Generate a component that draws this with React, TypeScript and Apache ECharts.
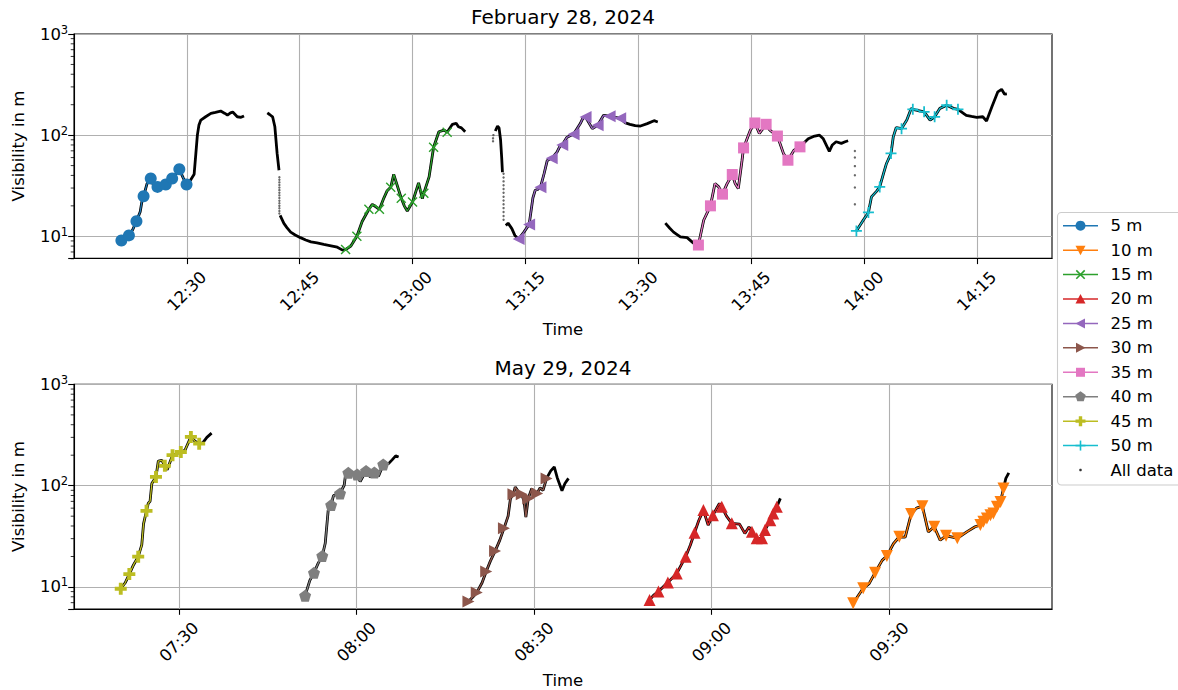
import { useEffect, useRef } from 'react';
import * as echarts from 'echarts';

type P = [number, number];

// ===== axis ranges and ticks (minutes since midnight / visibility in m) =====
const FEB_X_RANGE: P = [735, 865];
const MAY_X_RANGE: P = [432.25, 597.5];
const Y_RANGE: P = [6.06, 1000];
const FEB_X_TICKS = [750, 765, 780, 795, 810, 825, 840, 855];
const MAY_X_TICKS = [450, 480, 510, 540, 570];
const Y_MINOR_TICKS = [6, 7, 8, 9, 20, 30, 40, 50, 60, 70, 80, 90, 200, 300, 400, 500, 600, 700, 800, 900];
const LEGEND_LABELS = ['5 m', '10 m', '15 m', '20 m', '25 m', '30 m', '35 m', '40 m', '45 m', '50 m', 'All data'];
const TITLES = ['February 28, 2024', 'May 29, 2024'];

// ===== February 28, 2024 =====
const feb5mMarks: P[] = [[741.3, 9.1], [742.3, 10.2], [743.3, 14.1], [744.25, 24.9], [745.2, 37.3], [746.1, 30.8], [747.2, 32.5], [748.05, 37.3], [749.0, 46.0], [749.96, 32.5]];
const feb5mBetween: P[] = [[742.8, 11.6], [743.8, 17.5], [744.0, 21.5], [744.7, 33], [745.6, 31.5], [746.6, 31.2], [747.6, 34.5], [748.5, 41], [749.5, 38]];
const feb5mPost: P[] = [[750.5, 36], [750.97, 41.1], [751.2, 65.9], [751.4, 100], [751.6, 125], [751.86, 141], [752.5, 152], [753.2, 164], [753.8, 168], [754.5, 173], [755.0, 165], [755.4, 158], [755.8, 166], [756.1, 169], [756.7, 152], [757.2, 150], [757.6, 155]];

const febBlackB: P[] = [[760.7, 166], [761.0, 160], [761.4, 152], [761.7, 121], [762.0, 65.9], [762.25, 45]];
const feb15mPre: P[] = [[762.4, 16.1], [762.9, 13.4], [763.3, 12.2], [763.8, 11.0], [764.4, 10.3], [765.1, 9.7], [765.8, 9.2], [766.5, 8.8], [767.3, 8.6], [768.2, 8.3], [769.0, 8.1], [770.0, 7.8], [770.7, 7.3]];
const feb15mMarks: P[] = [[771.1, 7.4], [772.6, 10], [774.2, 18.5], [775.6, 18.5], [777.1, 30.5], [778.5, 23.8], [780.0, 21.8], [781.5, 26.7], [782.8, 76], [784.6, 107]];
const feb15mBetween: P[] = [[771.8, 8.0], [773.3, 14], [774.65, 20.7], [776.2, 24], [776.6, 28], [777.5, 41], [778.9, 20], [779.3, 17.8], [780.8, 33.7], [781.3, 23.6], [782.2, 38.7], [783.5, 108], [784.2, 112]];
const feb15mPost: P[] = [[785.3, 128], [785.8, 131], [786.1, 121], [786.5, 118], [787.0, 108]];

const febBlackC: P[] = [[791.0, 110], [791.3, 123], [791.5, 118], [791.7, 90], [791.85, 60], [791.95, 43]];
const feb25mPre: P[] = [[792.4, 12.8], [792.7, 13.5], [793.2, 11.9], [793.6, 10.2]];
const feb25mMarks: P[] = [[794.1, 9.4], [795.5, 13.1], [797.0, 30.5], [798.5, 59], [799.9, 80], [801.4, 102], [803.0, 151], [804.6, 125], [806.2, 154], [807.6, 147]];
const feb25mBetween: P[] = [[794.8, 11], [796.0, 24], [796.3, 28.5], [796.6, 29], [797.5, 42], [797.9, 56], [798.2, 58], [799.2, 68], [799.6, 78], [800.5, 95], [801.0, 99], [802.3, 130], [802.7, 150], [803.9, 116], [805.4, 157], [806.9, 150]];
const feb25mPost: P[] = [[808.3, 132], [808.9, 128], [809.6, 124], [810.3, 123], [811.2, 130], [812.1, 139], [812.6, 135]];

const feb35mPre: P[] = [[813.6, 13.5], [814.2, 12.0], [814.7, 11.0], [815.6, 9.85], [816.5, 9.7], [817.3, 8.6]];
const feb35mMarks: P[] = [[818.0, 8.2], [819.6, 20.0], [821.2, 26.1], [822.5, 40.8], [824.0, 74.8], [825.5, 132], [827.0, 128], [828.5, 98], [829.9, 56.5], [831.5, 76.6]];
const feb35mBetween: P[] = [[818.7, 14.4], [820.2, 33.3], [820.7, 30.8], [821.8, 33], [822.9, 33], [823.3, 29.7], [823.8, 56.5], [824.9, 112], [826.1, 104], [827.5, 112], [829.3, 66], [830.7, 71]];
const feb35mPost: P[] = [[832.6, 92], [833.3, 97], [834.1, 100], [834.6, 92], [835.4, 69], [835.8, 80], [836.3, 86], [837.0, 83], [837.5, 86], [837.9, 88]];

const feb50mMarks: P[] = [[839.0, 11.3], [840.6, 17.2], [842.1, 30.8], [843.6, 65.9], [845.0, 116], [846.5, 180], [848.0, 170], [849.4, 152], [851.0, 198], [852.5, 180]];
const feb50mBetween: P[] = [[839.9, 14.4], [841.0, 24.5], [841.7, 28], [842.6, 41.7], [843.0, 52.5], [843.9, 96], [844.3, 119], [845.7, 141], [846.3, 184], [847.4, 174], [848.8, 141], [850.1, 184], [851.9, 184]];
const feb50mPost: P[] = [[853.6, 157], [854.3, 153], [855.0, 150], [855.8, 152], [856.3, 138], [857.0, 190], [857.8, 268], [858.3, 284], [858.7, 254], [859.0, 256]];

const febSparse: P[] = [
  [762.3, 38.4], [762.3, 36.2], [762.3, 34.1], [762.3, 32.2], [762.3, 30.3], [762.3, 28.6], [762.3, 26.9], [762.3, 25.4], [762.3, 23.9], [762.3, 22.5], [762.3, 21.2], [762.3, 20.0], [762.3, 18.9], [762.3, 17.8], [762.3, 16.8],
  [790.7, 87], [790.7, 93], [790.75, 100],
  [792.1, 41.6], [792.1, 38.1], [792.1, 34.9], [792.1, 32.0], [792.1, 29.3], [792.1, 26.9], [792.1, 24.6], [792.1, 22.6], [792.1, 20.7], [792.1, 19.0], [792.1, 17.4], [792.1, 15.9], [792.1, 14.6],
  [838.8, 69.6], [838.8, 60.2], [838.8, 49.4], [838.8, 40.2], [838.8, 30.4], [838.8, 20.7],
];

// ===== May 29, 2024 =====
const may45mMarks: P[] = [[440.15, 9.6], [441.6, 13.4], [443.1, 19.9], [444.5, 56.5], [446.1, 122], [447.6, 157], [448.9, 200], [450.3, 215], [452.0, 303], [453.4, 260]];
const may45mBetween: P[] = [[440.9, 11], [442.3, 16.5], [443.7, 26], [444.0, 42], [444.8, 67], [445.1, 70], [445.4, 105], [446.5, 175], [447.1, 178], [448.0, 144], [451.0, 224], [452.7, 275]];
const may45mPost: P[] = [[454.0, 265], [454.7, 300], [455.5, 330]];

const may40mMarks: P[] = [[471.3, 8.2], [472.8, 13.8], [474.2, 20.2], [475.7, 64.3], [477.2, 83.8], [478.6, 134], [480.1, 129], [481.6, 140], [483.0, 135], [484.5, 162]];
const may40mBetween: P[] = [[472.1, 11.6], [473.5, 17.1], [474.7, 27], [475.2, 57], [476.1, 80], [477.9, 101], [478.2, 137], [480.6, 110], [482.3, 122], [483.7, 124]];
const may40mPost: P[] = [[485.4, 165], [486.0, 180], [486.6, 197], [487.1, 192]];

const may30mMarks: P[] = [[498.9, 7.2], [500.3, 8.8], [501.9, 14.2], [503.4, 22.6], [504.9, 37.9], [506.5, 82.4], [507.9, 82.4], [509.0, 74.8], [510.5, 83.8], [512.1, 118]];
const may30mBetween: P[] = [[499.6, 7.9], [501.2, 11], [502.6, 18], [504.2, 29], [505.6, 50], [506.0, 75], [506.8, 97], [507.4, 86], [508.3, 70], [508.6, 49], [509.6, 94], [510.0, 80], [511.0, 95], [511.5, 90]];
const may30mPost: P[] = [[512.8, 140], [513.4, 153], [513.9, 120], [514.7, 89], [515.2, 105], [515.8, 118]];

const may20mMarks: P[] = [[529.5, 7.45], [531.0, 9.0], [532.6, 11.1], [534.1, 13.6], [535.6, 19.9], [537.1, 34.3], [538.6, 57.4], [540.2, 51.2], [541.7, 61.8], [543.4, 42.5], [546.8, 35.1], [547.6, 30.2], [548.5, 30.2], [549.0, 36.5], [549.9, 45.7], [550.4, 53.2], [551.0, 61.8]];
const may20mBetween: P[] = [[530.2, 8.3], [533.3, 12.2], [536.4, 26], [537.8, 45], [539.4, 40.8], [541.3, 66.7], [542.5, 50], [544.7, 41.7], [545.6, 33.8], [546.3, 39]];
const may20mPost: P[] = [[551.6, 75]];

const may10mMarks: P[] = [[563.9, 6.9], [565.6, 9.7], [567.6, 13.8], [569.6, 20.2], [571.7, 31.3], [573.7, 52.4], [575.6, 62.8], [577.6, 39.3], [579.6, 32], [581.5, 30.2], [585.4, 40.8], [585.9, 44], [586.5, 47.5], [587.1, 51.2], [587.6, 53.2], [588.2, 61.8], [588.8, 69.2], [589.3, 93.8]];
const may10mBetween: P[] = [[566.6, 10.8], [568.8, 18.3], [570.7, 26.7], [572.7, 31.1], [574.6, 60], [576.6, 35], [578.6, 29], [580.9, 30.9], [583.1, 35], [584.5, 39.3]];
const may10mPost: P[] = [[589.7, 118], [590.2, 134]];

// ===== styling =====
const FONT = 'DejaVu Sans';
const FS = 16.5;
const GRID_COLOR = '#b0b0b0';
const AX_W = 1.1;

const SYM_X = 'path://M0,1 L1,0 L10,9 L9,10 Z M9,0 L10,1 L1,10 L0,9 Z';
const SYM_PLUS = 'path://M4.2,0 L5.8,0 L5.8,10 L4.2,10 Z M0,4.2 L10,4.2 L10,5.8 L0,5.8 Z';
const SYM_PPLUS = 'path://M3.4,0 L6.6,0 L6.6,3.4 L10,3.4 L10,6.6 L6.6,6.6 L6.6,10 L3.4,10 L3.4,6.6 L0,6.6 L0,3.4 L3.4,3.4 Z';
const SYM_PENT = 'path://M5,0 L10,3.63 L8.09,9.51 L1.91,9.51 L0,3.63 Z';

interface Run { panel: number; color: string; symbol: string; size: number; rotate: number; kind: string; pre: P[]; marks: P[]; between: P[]; post: P[] }

const RUNS: Run[] = [
  { panel: 0, color: '#1f77b4', symbol: 'circle', size: 12, rotate: 0, kind: 'circle', pre: [], marks: feb5mMarks, between: feb5mBetween, post: feb5mPost },
  { panel: 1, color: '#ff7f0e', symbol: 'triangle', size: 12, rotate: 180, kind: 'down', pre: [], marks: may10mMarks, between: may10mBetween, post: may10mPost },
  { panel: 0, color: '#2ca02c', symbol: SYM_X, size: 10, rotate: 0, kind: 'x', pre: feb15mPre, marks: feb15mMarks, between: feb15mBetween, post: feb15mPost },
  { panel: 1, color: '#d62728', symbol: 'triangle', size: 12, rotate: 0, kind: 'up', pre: [], marks: may20mMarks, between: may20mBetween, post: may20mPost },
  { panel: 0, color: '#9467bd', symbol: 'triangle', size: 12, rotate: 90, kind: 'left', pre: feb25mPre, marks: feb25mMarks, between: feb25mBetween, post: feb25mPost },
  { panel: 1, color: '#8c564b', symbol: 'triangle', size: 12, rotate: -90, kind: 'right', pre: [], marks: may30mMarks, between: may30mBetween, post: may30mPost },
  { panel: 0, color: '#e377c2', symbol: 'rect', size: 11, rotate: 0, kind: 'square', pre: feb35mPre, marks: feb35mMarks, between: feb35mBetween, post: feb35mPost },
  { panel: 1, color: '#7f7f7f', symbol: SYM_PENT, size: 12, rotate: 0, kind: 'pent', pre: [], marks: may40mMarks, between: may40mBetween, post: may40mPost },
  { panel: 1, color: '#bcbd22', symbol: SYM_PPLUS, size: 12, rotate: 0, kind: 'P', pre: [], marks: may45mMarks, between: may45mBetween, post: may45mPost },
  { panel: 0, color: '#17becf', symbol: SYM_PLUS, size: 11, rotate: 0, kind: 'plus', pre: [], marks: feb50mMarks, between: feb50mBetween, post: feb50mPost },
];

const byTime = (a: P[]): P[] => [...a].sort((p, q) => p[0] - q[0]);

const fmtTime = (v: number) => {
  const h = Math.floor(v / 60 + 1e-6);
  const m = Math.round(v - h * 60);
  return `${String(h).padStart(2, '0')}:${String(m).padStart(2, '0')}`;
};

const fmtLog = (v: number) => {
  const e = Math.log10(v);
  if (Math.abs(e - Math.round(e)) > 0.01) return '';
  return `{b|10}{s|${Math.round(e)}}`;
};

function legendMarker(kind: string, cx: number, cy: number, color: string): any[] {
  const fill = { fill: color };
  switch (kind) {
    case 'circle': return [{ type: 'circle', shape: { cx, cy, r: 5 }, style: fill }];
    case 'down': return [{ type: 'polygon', shape: { points: [[cx - 5, cy - 4.5], [cx + 5, cy - 4.5], [cx, cy + 5]] }, style: fill }];
    case 'up': return [{ type: 'polygon', shape: { points: [[cx - 5, cy + 4.5], [cx + 5, cy + 4.5], [cx, cy - 5]] }, style: fill }];
    case 'left': return [{ type: 'polygon', shape: { points: [[cx + 4.5, cy - 5], [cx + 4.5, cy + 5], [cx - 5, cy]] }, style: fill }];
    case 'right': return [{ type: 'polygon', shape: { points: [[cx - 4.5, cy - 5], [cx - 4.5, cy + 5], [cx + 5, cy]] }, style: fill }];
    case 'square': return [{ type: 'rect', shape: { x: cx - 4.5, y: cy - 4.5, width: 9, height: 9 }, style: fill }];
    case 'pent': return [{ type: 'polygon', shape: { points: [[cx, cy - 5.5], [cx + 5.23, cy - 1.7], [cx + 3.23, cy + 4.45], [cx - 3.23, cy + 4.45], [cx - 5.23, cy - 1.7]] }, style: fill }];
    case 'P': return [{ type: 'polygon', shape: { points: [[cx - 1.7, cy - 5], [cx + 1.7, cy - 5], [cx + 1.7, cy - 1.7], [cx + 5, cy - 1.7], [cx + 5, cy + 1.7], [cx + 1.7, cy + 1.7], [cx + 1.7, cy + 5], [cx - 1.7, cy + 5], [cx - 1.7, cy + 1.7], [cx - 5, cy + 1.7], [cx - 5, cy - 1.7], [cx - 1.7, cy - 1.7]] }, style: fill }];
    case 'x': return [
      { type: 'line', shape: { x1: cx - 4.2, y1: cy - 4.2, x2: cx + 4.2, y2: cy + 4.2 }, style: { stroke: color, lineWidth: 1.6 } },
      { type: 'line', shape: { x1: cx - 4.2, y1: cy + 4.2, x2: cx + 4.2, y2: cy - 4.2 }, style: { stroke: color, lineWidth: 1.6 } },
    ];
    case 'plus': return [
      { type: 'line', shape: { x1: cx - 5, y1: cy, x2: cx + 5, y2: cy }, style: { stroke: color, lineWidth: 1.6 } },
      { type: 'line', shape: { x1: cx, y1: cy - 5, x2: cx, y2: cy + 5 }, style: { stroke: color, lineWidth: 1.6 } },
    ];
    default: return [{ type: 'circle', shape: { cx, cy, r: 1.3 }, style: { fill: '#333' } }];
  }
}

function buildOption(): any {
  const grids = [
    { left: 74, top: 34, width: 978, height: 224.3, show: true, borderColor: '#000', borderWidth: AX_W, backgroundColor: 'transparent' },
    { left: 74, top: 384.4, width: 978, height: 224.6, show: true, borderColor: '#000', borderWidth: AX_W, backgroundColor: 'transparent' },
  ];
  const ranges = [FEB_X_RANGE, MAY_X_RANGE];
  const ticks = [FEB_X_TICKS, MAY_X_TICKS];
  const xAxes = [0, 1].map((i) => ({
    type: 'value', gridIndex: i, min: ranges[i][0], max: ranges[i][1],
    axisLine: { show: true, onZero: false, lineStyle: { color: '#000', width: AX_W } },
    axisTick: { show: true, customValues: ticks[i], length: 5.8, lineStyle: { color: '#000', width: AX_W } },
    axisLabel: { customValues: ticks[i], formatter: fmtTime, rotate: 45, align: 'center', verticalAlign: 'middle', margin: 33, fontSize: FS, fontFamily: FONT, color: '#000' },
    splitLine: { show: true, lineStyle: { color: GRID_COLOR, width: AX_W } },
  }));
  const yAxes = [0, 1].map((i) => ({
    type: 'log', logBase: 10, gridIndex: i, min: Y_RANGE[0], max: Y_RANGE[1],
    axisLine: { show: true, lineStyle: { color: '#000', width: AX_W } },
    axisTick: { show: true, length: 5.8, lineStyle: { color: '#000', width: AX_W } },
    axisLabel: {
      margin: 5.8, formatter: fmtLog, color: '#000', fontFamily: FONT,
      rich: {
        b: { fontSize: FS, fontFamily: FONT, color: '#000' },
        s: { fontSize: 11.5, fontFamily: FONT, color: '#000', padding: [0, 0, 9, 0] },
      },
    },
    splitLine: { show: true, lineStyle: { color: GRID_COLOR, width: AX_W } },
    minorTick: { show: false },
  }));

  const series: any[] = [];
  const blackLine = (panel: number, data: P[]) => ({
    type: 'line', xAxisIndex: panel, yAxisIndex: panel, data, symbol: 'none', silent: true, z: 2,
    lineStyle: { color: '#000', width: 2.8 },
  });
  series.push(blackLine(0, febBlackB));
  series.push(blackLine(0, febBlackC));
  RUNS.forEach((r) => {
    series.push(blackLine(r.panel, byTime([...r.pre, ...r.marks, ...r.between, ...r.post])));
  });
  RUNS.forEach((r) => {
    series.push({
      type: 'line', xAxisIndex: r.panel, yAxisIndex: r.panel, data: byTime([...r.marks, ...r.between]),
      symbol: 'none', silent: true, z: 3, lineStyle: { color: r.color, width: 1.3 },
    });
  });
  RUNS.forEach((r) => {
    series.push({
      type: 'scatter', xAxisIndex: r.panel, yAxisIndex: r.panel, data: r.marks, symbol: r.symbol,
      symbolSize: r.size, symbolRotate: r.rotate, itemStyle: { color: r.color, opacity: 1 }, silent: true, z: 4,
    });
  });
  series.push({
    type: 'scatter', xAxisIndex: 0, yAxisIndex: 0, data: febSparse, symbol: 'circle', symbolSize: 2.4,
    itemStyle: { color: '#444' }, silent: true, z: 2,
  });
  [0, 1].forEach((i) => {
    series.push({
      type: 'scatter', xAxisIndex: i, yAxisIndex: i, data: Y_MINOR_TICKS.map((v) => [ranges[i][0], v]),
      symbol: 'rect', symbolSize: [3.3, 1], symbolOffset: [-1.65, 0], clip: false,
      itemStyle: { color: '#000' }, silent: true, z: 5,
    });
  });

  const txt = (text: string, x: number, y: number, size: number, rotation = 0) => ({
    type: 'text', x, y, rotation, silent: true,
    style: { text, fill: '#000', fontSize: size, fontFamily: FONT, align: 'center', verticalAlign: 'middle', textAlign: 'center', textVerticalAlign: 'middle' },
  });
  const graphic: any[] = [
    txt(TITLES[0], 563, 17, 20),
    txt(TITLES[1], 563, 368, 20),
    txt('Time', 563, 329, FS),
    txt('Time', 563, 680, FS),
    txt('Visibility in m', 18.5, 146, FS, Math.PI / 2),
    txt('Visibility in m', 18.5, 496.5, FS, Math.PI / 2),
    {
      type: 'rect', silent: true, shape: { x: 1057.5, y: 212.5, width: 140, height: 272.5, r: 4 },
      style: { fill: 'rgba(255,255,255,0.8)', stroke: '#cccccc', lineWidth: 1.1 },
    },
  ];
  LEGEND_LABELS.forEach((label, i) => {
    const cy = 225.7 + i * 24.43;
    const r = RUNS[i];
    if (r) {
      graphic.push({ type: 'line', silent: true, shape: { x1: 1063, y1: cy, x2: 1098, y2: cy }, style: { stroke: r.color, lineWidth: 1.5 } });
      legendMarker(r.kind, 1080.5, cy, r.color).forEach((g) => graphic.push({ ...g, silent: true }));
    } else {
      legendMarker('dot', 1080.5, cy, '#333').forEach((g) => graphic.push({ ...g, silent: true }));
    }
    graphic.push({
      type: 'text', x: 1110.5, y: cy, silent: true,
      style: { text: label, fill: '#000', fontSize: FS, fontFamily: FONT, align: 'left', verticalAlign: 'middle', textAlign: 'left', textVerticalAlign: 'middle' },
    });
  });

  return {
    animation: false,
    backgroundColor: '#ffffff',
    textStyle: { fontFamily: FONT },
    grid: grids,
    xAxis: xAxes,
    yAxis: yAxes,
    series,
    graphic,
  };
}

export default function App() {
  const ref = useRef<HTMLDivElement>(null);
  useEffect(() => {
    if (!ref.current) return;
    const chart = echarts.init(ref.current, undefined, { renderer: 'svg' });
    chart.setOption(buildOption());
    return () => chart.dispose();
  }, []);
  return <div ref={ref} style={{ position: 'absolute', left: 0, top: 0, width: 1178, height: 690 }} />;
}
